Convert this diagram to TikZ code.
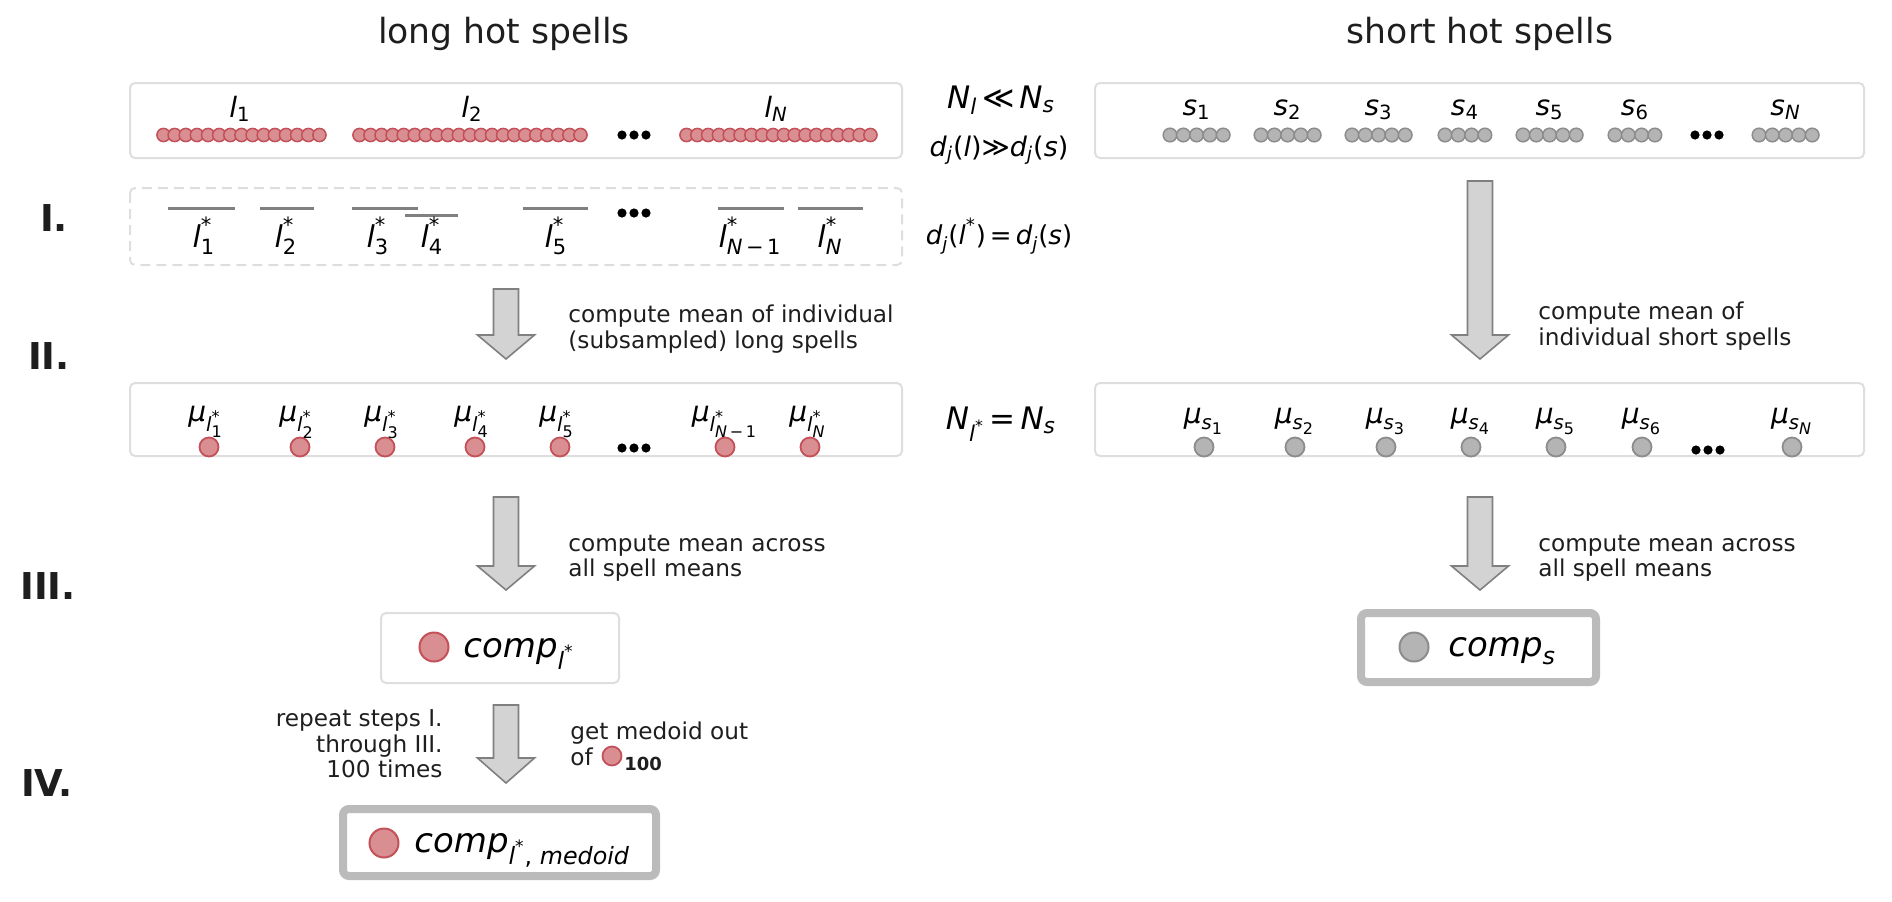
\documentclass[tikz,border=0pt]{standalone}
\usepackage{fontspec}
\usepackage{amsmath}
\setmainfont{DejaVu Sans}
\DeclareMathSizes{14}{14}{9.8}{8}
\definecolor{redfill}{RGB}{217,142,146}
\definecolor{redline}{RGB}{196,80,88}
\definecolor{greyfill}{RGB}{180,180,180}
\definecolor{greyline}{RGB}{140,140,140}
\definecolor{boxline}{RGB}{222,222,222}
\definecolor{thickline}{RGB}{187,187,187}
\definecolor{arrowfill}{RGB}{211,211,211}
\definecolor{arrowline}{RGB}{128,128,128}
\definecolor{segline}{RGB}{128,128,128}
\definecolor{txt}{RGB}{30,30,30}
\newcommand{\V}[1]{\text{\itshape #1}}
\newcommand{\R}[1]{\text{\upshape #1}}
\begin{document}
\begin{tikzpicture}[x=0.5pt,y=-0.5pt,
  box/.style={draw=boxline,line width=1pt,rounded corners=2.5pt},
  dbox/.style={draw=boxline,line width=1pt,dash pattern=on 5pt off 3pt,rounded corners=2.5pt},
  thickbox/.style={draw=thickline,line width=4pt,rounded corners=3pt},
  rbead/.style={fill=redfill,draw=redline,line width=0.75pt},
  gbead/.style={fill=greyfill,draw=greyline,line width=0.75pt},
  seg/.style={draw=segline,line width=1.5pt},
  blockarrow/.style={fill=arrowfill,draw=arrowline,line width=0.8pt,line join=miter},
  title/.style={font=\fontsize{17.3pt}{20pt}\selectfont,text=txt,inner sep=0},
  roman/.style={font=\fontsize{18.5pt}{20pt}\selectfont\bfseries,text=txt,inner sep=0},
  body/.style={font=\fontsize{11.6pt}{12.7pt}\selectfont,text=txt,inner sep=0},
  lab/.style={font=\fontsize{14pt}{16pt}\selectfont,inner sep=0,anchor=base},
  slab/.style={font=\fontsize{15pt}{17pt}\selectfont,inner sep=0,anchor=base},
  mlab/.style={font=\fontsize{14pt}{16pt}\selectfont,inner sep=0,anchor=base},
  eq/.style={font=\fontsize{15.5pt}{17pt}\selectfont,inner sep=0},
  comp/.style={font=\fontsize{17pt}{19pt}\selectfont,inner sep=0,anchor=base west},
  bold100/.style={font=\fontsize{9pt}{10pt}\selectfont\bfseries,text=txt,inner sep=0,anchor=base west},
]
\useasboundingbox (0,0) rectangle (1892,901);

% titles
\node[title] (tl) at (504,34) {long hot spells};
\node[title] (ts) at (1480,34) {short hot spells};

% roman numerals
\node[roman] (r1) at (54,218) {I.};
\node[roman] (r2) at (49,356) {II.};
\node[roman] (r3) at (48,586) {III.};
\node[roman] (r4) at (47,783) {IV.};

% boxes
\draw[box] (130,83) rectangle (902,158);
\draw[dbox] (130,188) rectangle (902,265);
\draw[box] (1095,83) rectangle (1864,158);
\draw[box] (130,383) rectangle (902,456);
\draw[box] (1095,383) rectangle (1864,456);
\draw[box] (381,613) rectangle (619,683);
\draw[thickbox] (1361,613) rectangle (1596,682);
\draw[thickbox] (343,809) rectangle (656,876);

% long spells beads
\foreach \i in {0,...,14} \draw[rbead] ({163.5+\i*11.14},135) circle[radius=3.3pt];
\foreach \i in {0,...,20} \draw[rbead] ({359.5+\i*11.05},135) circle[radius=3.3pt];
\foreach \i in {0,...,17} \draw[rbead] ({686.5+\i*10.82},135) circle[radius=3.3pt];
\node[lab] (l1) at (240,117) {$\V{l}_{\R{1}}$};
\node[lab] (l2) at (472,117) {$\V{l}_{\R{2}}$};
\node[lab] (lN) at (776,117) {$\V{l}_{\V{N}}$};

% short spells beads
\foreach \s/\n in {1170/5,1261/5,1352/5,1445/4,1523/5,1615/4,1759/5}
  \foreach \i in {1,...,\n} \draw[gbead] ({\s+(\i-1)*13.3},135) circle[radius=3.4pt];
\node[lab] (s1) at (1196.6,115) {$\V{s}_{\R{1}}$};
\node[lab] (s2) at (1287.6,115) {$\V{s}_{\R{2}}$};
\node[lab] (s3) at (1378.6,115) {$\V{s}_{\R{3}}$};
\node[lab] (s4) at (1465,115) {$\V{s}_{\R{4}}$};
\node[lab] (s5) at (1549.6,115) {$\V{s}_{\R{5}}$};
\node[lab] (s6) at (1635,115) {$\V{s}_{\R{6}}$};
\node[lab] (sN) at (1785.6,115) {$\V{s}_{\V{N}}$};

% subsampled segments
\draw[seg] (168,208) -- (235,208);
\draw[seg] (260,208) -- (314,208);
\draw[seg] (352,208) -- (418,208);
\draw[seg] (405,215) -- (458,215);
\draw[seg] (523,208) -- (588,208);
\draw[seg] (718,208) -- (784,208);
\draw[seg] (798,208) -- (863,208);
\node[slab] (ls1) at (204,247) {$\V{l}^{\R{*}}_{\R{1}}$};
\node[slab] (ls2) at (286,247) {$\V{l}^{\R{*}}_{\R{2}}$};
\node[slab] (ls3) at (378,247) {$\V{l}^{\R{*}}_{\R{3}}$};
\node[slab] (ls4) at (432,247) {$\V{l}^{\R{*}}_{\R{4}}$};
\node[slab] (ls5) at (556,247) {$\V{l}^{\R{*}}_{\R{5}}$};
\node[slab] (lsN1) at (750,247) {$\V{l}^{\R{*}}_{\V{N}\R{\,−\,1}}$};
\node[slab] (lsN) at (830,247) {$\V{l}^{\R{*}}_{\V{N}}$};

% dots
\foreach \x/\y in {634/135,634/213,1707/135,634/448,1708/450}
  \foreach \k in {-1,0,1} \fill ({\x+\k*12},\y) circle[radius=2.3pt];

% middle equations
\node[eq] (e1) at (1001,100) {$\V{N}_{\V{l}}\,\R{≪}\,\V{N}_{\V{s}}$};
\node[eq,font=\fontsize{13.5pt}{15pt}\selectfont] (e2) at (999,150) {$\V{d}_{\V{j}}\R{(}\V{l}\R{)}\R{≫}\V{d}_{\V{j}}\R{(}\V{s}\R{)}$};
\node[eq,font=\fontsize{13pt}{15pt}\selectfont] (e3) at (999,236) {$\V{d}_{\V{j}}\R{(}\V{l}^{\R{*}}\R{)}\,\R{=}\,\V{d}_{\V{j}}\R{(}\V{s}\R{)}$};
\node[eq] (e4) at (1001,424) {$\V{N}_{\V{l}^{\R{*}}}\,\R{=}\,\V{N}_{\V{s}}$};

% mean rows
\foreach \x in {209,300,385,475,560,725,810}
  \draw[rbead,line width=0.9pt] (\x,447) circle[radius=4.75pt];
\node[mlab] (m1) at (206,421) {$\V{μ}_{\V{l}^{\R{*}}_{\R{1}}}$};
\node[mlab] (m2) at (297,421) {$\V{μ}_{\V{l}^{\R{*}}_{\R{2}}}$};
\node[mlab] (m3) at (382,421) {$\V{μ}_{\V{l}^{\R{*}}_{\R{3}}}$};
\node[mlab] (m4) at (472,421) {$\V{μ}_{\V{l}^{\R{*}}_{\R{4}}}$};
\node[mlab] (m5) at (557,421) {$\V{μ}_{\V{l}^{\R{*}}_{\R{5}}}$};
\node[mlab] (mN1) at (725,421) {$\V{μ}_{\V{l}^{\R{*}}_{\V{N}\R{\,−\,1}}}$};
\node[mlab] (mN) at (808,421) {$\V{μ}_{\V{l}^{\R{*}}_{\V{N}}}$};

\foreach \x in {1204,1295,1386,1471,1556,1642,1792}
  \draw[gbead,line width=0.9pt] (\x,447) circle[radius=4.75pt];
\node[mlab] (ms1) at (1204,423) {$\V{μ}_{\V{s}_{\R{1}}}$};
\node[mlab] (ms2) at (1295,423) {$\V{μ}_{\V{s}_{\R{2}}}$};
\node[mlab] (ms3) at (1386,423) {$\V{μ}_{\V{s}_{\R{3}}}$};
\node[mlab] (ms4) at (1471,423) {$\V{μ}_{\V{s}_{\R{4}}}$};
\node[mlab] (ms5) at (1556,423) {$\V{μ}_{\V{s}_{\R{5}}}$};
\node[mlab] (ms6) at (1642,423) {$\V{μ}_{\V{s}_{\R{6}}}$};
\node[mlab] (msN) at (1792,423) {$\V{μ}_{\V{s}_{\V{N}}}$};

% block arrows
\newcommand{\barrow}[4]{\draw[blockarrow] ({#1-12.5},#2) -- ({#1+12.5},#2) -- ({#1+12.5},#3) -- ({#1+28.5},#3) -- (#1,#4) -- ({#1-28.5},#3) -- ({#1-12.5},#3) -- cycle;}
\barrow{506}{289}{335}{359}
\barrow{1480}{181}{335}{359}
\barrow{506}{497}{566}{590}
\barrow{1480}{497}{566}{590}
\barrow{506}{705}{758}{783}

% step texts
\node[body,anchor=west,align=left] (t2l) at (568,329) {compute mean of individual\\(subsampled) long spells};
\node[body,anchor=west,align=left] (t2r) at (1538,326) {compute mean of\\individual short spells};
\node[body,anchor=west,align=left] (t3l) at (568,558) {compute mean across\\all spell means};
\node[body,anchor=west,align=left] (t3r) at (1538,558) {compute mean across\\all spell means};
\node[body,anchor=east,align=right] (t4l) at (443,744) {repeat steps I.\\through III.\\100 times};
\node[body,anchor=west,align=left] (t4r) at (570,744) {get medoid out\\of};
\draw[rbead,line width=0.9pt] (612,756) circle[radius=4.75pt];
\node[bold100] (h100) at (624,770) {100};

% composites
\draw[rbead,line width=1pt] (434,647) circle[radius=7.25pt];
\node[comp] (cl) at (463,657) {$\V{comp}_{\V{l}^{\R{*}}}$};
\draw[gbead,line width=1pt] (1414,647) circle[radius=7.25pt];
\node[comp] (cs) at (1448,656) {$\V{comp}_{\V{s}}$};
\draw[rbead,line width=1pt] (384,843) circle[radius=7.25pt];
\node[comp] (cm) at (414,852) {$\V{comp}_{\V{l}^{\R{*}}\R{, }\V{medoid}}$};
\end{tikzpicture}
\end{document}
